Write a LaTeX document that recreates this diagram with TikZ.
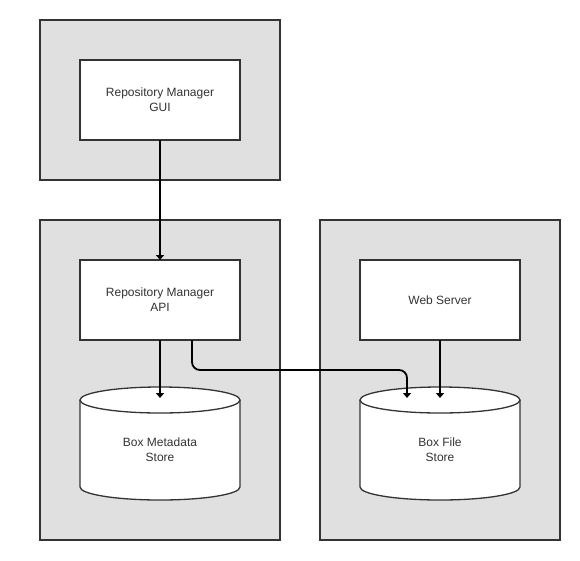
\documentclass[tikz,border=0pt]{standalone}
\usepackage{fontspec}
\setmainfont{Liberation Sans}
\usetikzlibrary{arrows.meta}
\definecolor{grayfill}{HTML}{E0E0E0}
\definecolor{edge}{HTML}{333333}
\definecolor{txt}{HTML}{333333}
\begin{document}
\begin{tikzpicture}[x=1pt,y=-1pt,
  container/.style={draw=edge,fill=grayfill,line width=1.6pt},
  compbox/.style={draw=edge,fill=white,line width=1.6pt},
  label/.style={font=\fontsize{12}{15}\selectfont,text=txt,align=center,inner sep=0pt},
  conn/.style={draw=black,line width=1.8pt,-{Triangle[width=8pt,length=5pt]}},
  cyl/.style={draw=edge,fill=white,line width=1.3pt}]
\useasboundingbox (0,0) rectangle (580,560);
% containers
\draw[container] (40,20) rectangle (280,180);
\draw[container] (40,220) rectangle (280,540);
\draw[container] (320,220) rectangle (560,540);
% component boxes
\draw[compbox] (80,60) rectangle (240,140);
\node[label] (gui) at (160,100) {Repository Manager\\GUI};
\coordinate (guib) at (160,140);
\draw[compbox] (80,260) rectangle (240,340);
\node[label] (api) at (160,300) {Repository Manager\\API};
\coordinate (apit) at (160,260);
\coordinate (apib) at (160,340);
\coordinate (apib2) at (192,340);
\draw[compbox] (360,260) rectangle (520,340);
\node[label] (web) at (440,300) {Web Server};
\coordinate (webb) at (440,340);
% cylinders
\foreach \cx in {160,440}{
  \fill[white] (\cx-80,400) -- (\cx-80,487) arc[start angle=180,end angle=0,x radius=80,y radius=13] -- (\cx+80,400) -- cycle;
  \draw[cyl] (\cx-80,400) -- (\cx-80,487) arc[start angle=180,end angle=0,x radius=80,y radius=13] -- (\cx+80,400);
  \draw[cyl] (\cx,400) ellipse[x radius=80,y radius=13];
}
\node[label] (meta) at (160,450) {Box Metadata\\Store};
\node[label] (file) at (440,450) {Box File\\Store};
\coordinate (metat) at (160,398);
\coordinate (filet) at (440,398);
\coordinate (filet2) at (407,398);
% connectors
\draw[conn] (guib) -- (apit);
\draw[conn] (apib) -- (metat);
\draw[conn] (webb) -- (filet);
\draw[conn,rounded corners=8pt] (apib2) -- (192,370) -- (407,370) -- (filet2);
\end{tikzpicture}
\end{document}
